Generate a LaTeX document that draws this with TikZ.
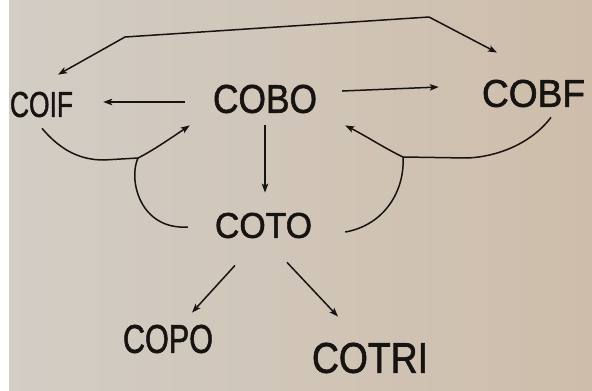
\documentclass[tikz,border=0pt]{standalone}
\usepackage{fontspec}
\usepackage{graphicx}
\newfontfamily\labfont[FakeBold=1.6]{Liberation Sans}
\usetikzlibrary{arrows.meta}
\definecolor{paperL}{RGB}{210,205,197}
\definecolor{paperR}{RGB}{206,189,170}
\definecolor{ink}{RGB}{22,19,17}
\newcommand\fitlabel[3]{\resizebox{#1pt}{#2pt}{\labfont #3}}

\begin{document}
\begin{tikzpicture}[x=1pt,y=-1pt,
  lbl/.style={inner sep=0pt, text=ink},
  link/.style={draw=ink, line width=1.5pt, line join=round},
  tip/.tip={Stealth[length=9pt,width=6.5pt,inset=2pt]},
  arr/.style={link, -tip},
  arrboth/.style={link, tip-tip},
]
% page: white margin strip, then the paper
\fill[white] (0,0) rectangle (592,391);
\shade[left color=paperL, right color=paperR] (9,0) rectangle (592,391);
\useasboundingbox (0,0) rectangle (592,391);

% labels
\node[lbl] (coif)  at (41.5,104.5) {\fitlabel{63}{25}{COIF}};
\node[lbl] (cobo)  at (265,99)     {\fitlabel{104}{28}{COBO}};
\node[lbl] (cobf)  at (533.5,93.5) {\fitlabel{103}{27}{COBF}};
\node[lbl] (coto)  at (263.5,225.5){\fitlabel{97}{25}{COTO}};
\node[lbl] (copo)  at (168,339)    {\fitlabel{90}{28}{COPO}};
\node[lbl] (cotri) at (370,358)    {\fitlabel{116}{30}{COTRI}};

% bends and junctions
\coordinate (tl) at (125,37);
\coordinate (tr) at (429,17);
\coordinate (jl) at (138,158);
\coordinate (jr) at (403,157);

% top link between COIF and COBF
\draw[arrboth] ([shift={(16.5,-17)}]coif.north) -- (tl) -- (tr)
  -- ([shift={(-36.5,-27)}]cobf.north);

% straight arrows out of COBO and COTO
\draw[arr] ([shift={(-28,3)}]cobo.west) -- ([shift={(30,-2.5)}]coif.east);
\draw[arr] ([shift={(25,-8)}]cobo.east) -- ([shift={(-43,-6.5)}]cobf.west);
\draw[arr] ([shift={(0,12)}]cobo.south) -- ([shift={(1.5,-20)}]coto.north);
\draw[arr] ([shift={(-28.5,27)}]coto.south) -- ([shift={(24,-12)}]copo.north);
\draw[arr] ([shift={(23.5,24)}]coto.south) -- ([shift={(-32,-26)}]cotri.north);

% left return: COIF and COTO back into COBO
\draw[arr] ([shift={(0.5,11)}]coif.south)
  .. controls (62,152) and (82,160) .. (104,160) -- (jl)
  .. controls (152,151) and (168,140) .. ([shift={(-23,12)}]cobo.south west);
\draw[link] ([shift={(-27,1.5)}]coto.west)
  .. controls (140,230) and (128,180) .. (jl);

% right return: COBF and COTO back into COBO
\draw[arr] ([shift={(17.5,10)}]cobf.south)
  .. controls (530,145) and (495,157) .. (467,158) -- (jr)
  .. controls (386,149) and (366,136) .. ([shift={(28,12)}]cobo.south east);
\draw[link] ([shift={(33,6.5)}]coto.east)
  .. controls (385,225) and (405,190) .. (jr);
\end{tikzpicture}
\end{document}
